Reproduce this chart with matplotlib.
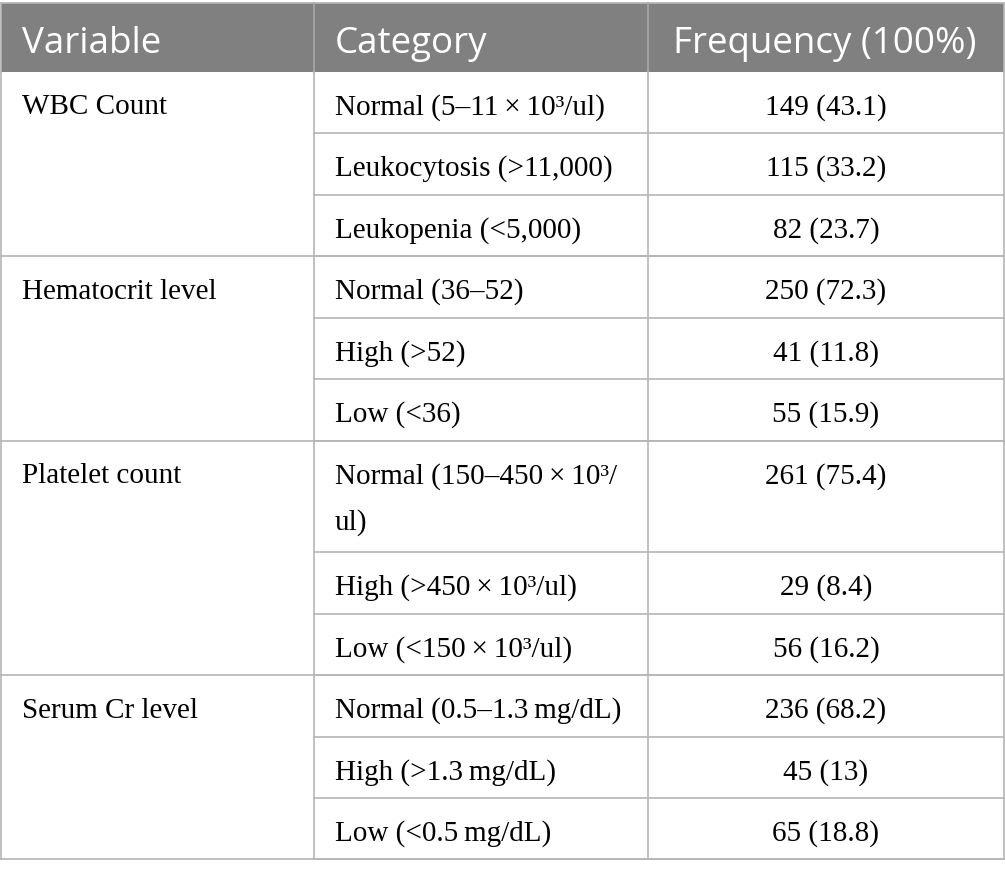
import matplotlib
matplotlib.use("Agg")
import matplotlib.pyplot as plt

# Table content
headers = ["Variable", "Category", "Frequency (100%)"]
variables = ["WBC Count", "Hematocrit level", "Platelet count", "Serum Cr level"]
categories = [
    ["Normal (5–11\u2009×\u200910³/ul)", "Leukocytosis (>11,000)", "Leukopenia (<5,000)"],
    ["Normal (36–52)", "High (>52)", "Low (<36)"],
    ["Normal (150–450\u2009×\u200910³/\nul)", "High (>450\u2009×\u200910³/ul)", "Low (<150\u2009×\u200910³/ul)"],
    ["Normal (0.5–1.3\u2009mg/dL)", "High (>1.3\u2009mg/dL)", "Low (<0.5\u2009mg/dL)"],
]
frequencies = [
    ["149 (43.1)", "115 (33.2)", "82 (23.7)"],
    ["250 (72.3)", "41 (11.8)", "55 (15.9)"],
    ["261 (75.4)", "29 (8.4)", "56 (16.2)"],
    ["236 (68.2)", "45 (13)", "65 (18.8)"],
]

W, H = 1005, 878
fig = plt.figure(figsize=(W / 100, H / 100), dpi=100)
ax = fig.add_axes([0, 0, 1, 1])
ax.set_xlim(0, W)
ax.set_ylim(H, 0)
ax.axis("off")

line_c = "#b5b5b5"
head_c = "#808080"
x0, x1, x2, x3 = 0.5, 314, 648, 1004
top, head_bot = 4, 72.5
row_h = 61.5
line_step = 46
extra = 50

serif = ["Liberation Serif", "DejaVu Serif"]
sans = ["Open Sans", "DejaVu Sans"]
body_fs = 21
head_fs = 26.5

# header
ax.add_patch(plt.Rectangle((x0, top), x3 - x0, head_bot - top, color=head_c, lw=0))
ax.plot([x0, x3], [top, top], color=line_c, lw=1.2)
for xv in (x1, x2):
    ax.plot([xv, xv], [top, head_bot], color="#a8a8a8", lw=1.2)
for xt, txt in zip([22, 335, 673], headers):
    ax.text(xt, top + 49, txt, color="white", fontsize=head_fs, family=sans,
            ha="left", va="baseline")

# body
y = head_bot
for var, cats, freqs in zip(variables, categories, frequencies):
    ax.text(22, y + 42, var, fontsize=body_fs, family=serif, va="baseline")
    for cat, fr in zip(cats, freqs):
        lines = cat.split("\n")
        h = row_h + (len(lines) - 1) * extra
        for i, ln in enumerate(lines):
            ax.text(335, y + 42 + i * line_step, ln, fontsize=body_fs, family=serif,
                    va="baseline")
        ax.text((x2 + x3) / 2, y + 42, fr, fontsize=body_fs, family=serif,
                ha="center", va="baseline")
        y += h
        ax.plot([x1, x3], [y, y], color=line_c, lw=1.2)
    ax.plot([x0, x3], [y, y], color=line_c, lw=1.2)

for xv in (x0, x1, x2, x3):
    ax.plot([xv, xv], [head_bot, y], color=line_c, lw=1.2)
ax.plot([x0, x0], [top, head_bot], color=line_c, lw=1.2)
ax.plot([x3, x3], [top, head_bot], color=line_c, lw=1.2)

fig.savefig("out.png", dpi=100)
